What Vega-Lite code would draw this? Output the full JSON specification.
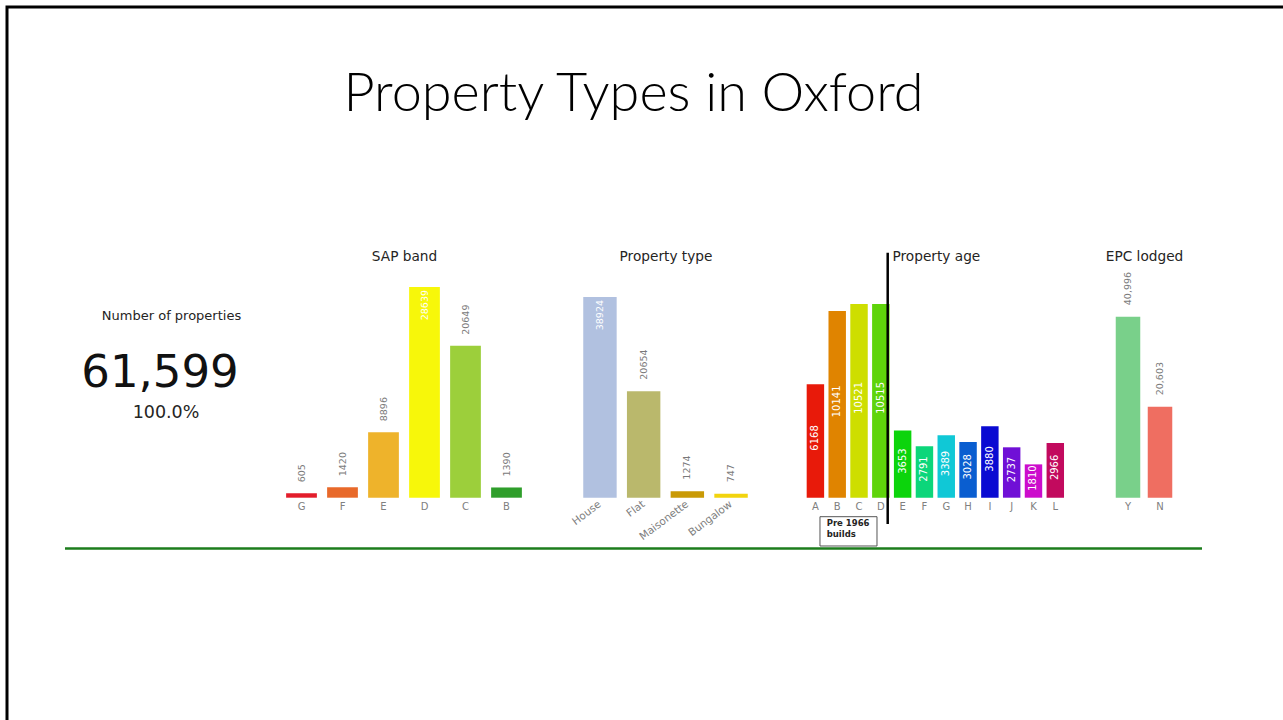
{
  "$schema": "https://vega.github.io/schema/vega-lite/v6.json",
  "width": 1283,
  "height": 716,
  "autosize": {"type": "none"},
  "padding": {"left": 7, "top": 7, "right": -7, "bottom": -3},
  "background": "white",
  "config": {
    "view": {"stroke": "black", "strokeWidth": 3},
    "font": "DejaVu Sans",
    "axis": {"domain": false, "ticks": false, "grid": false, "labelColor": "#808080", "labelFontSize": 10, "labelFont": "DejaVu Sans", "labelPadding": 4, "labelOverlap": false, "titleFont": "DejaVu Sans", "titleFontSize": 13.7, "titleFontWeight": "normal", "titleColor": "#252423", "titleBaseline": "middle", "titleY": -241.7, "orient": "bottom", "offset": -225.3, "labelAngle": 0}
  },
  "title": {"text": "Property Types in Oxford", "font": "Lato", "fontWeight": 300, "fontSize": 54, "color": "#000000", "anchor": "middle", "baseline": "alphabetic", "offset": -158, "dx": -15},
  "resolve": {"scale": {"x": "independent", "y": "independent", "color": "independent"}},
  "layer": [
    {
      "data": {"values": [{"metric": "Number of properties", "value": 61599, "share": 1}]},
      "encoding": {
        "x": {"field": "metric", "type": "nominal", "axis": null, "scale": {"range": [63, 243], "paddingInner": 0, "paddingOuter": 0}},
        "y": {"field": "value", "type": "quantitative", "axis": null, "scale": {"domain": [0, 61599], "range": [716, 379.7], "nice": false}}
      },
      "layer": [
        {"mark": {"type": "text", "font": "DejaVu Sans", "fontSize": 13, "color": "#252423", "baseline": "alphabetic", "align": "center", "dx": 11.5, "dy": -66.5}, "encoding": {"text": {"field": "metric"}}},
        {"mark": {"type": "text", "font": "DejaVu Sans", "fontSize": 45, "color": "#111111", "baseline": "alphabetic", "align": "center"}, "encoding": {"text": {"field": "value", "type": "quantitative", "format": ","}}},
        {"mark": {"type": "text", "font": "DejaVu Sans", "fontSize": 17.5, "color": "#252423", "baseline": "alphabetic", "align": "center", "dx": 6, "dy": 31.3}, "encoding": {"text": {"field": "share", "type": "quantitative", "format": ".1%"}}}
      ]
    },
    {
      "data": {"values": [
        {"band": "G", "count": 605}, {"band": "F", "count": 1420}, {"band": "E", "count": 8896},
        {"band": "D", "count": 28639}, {"band": "C", "count": 20649}, {"band": "B", "count": 1390}
      ]},
      "encoding": {
        "x": {"field": "band", "type": "nominal", "sort": null, "title": "SAP band", "scale": {"range": [274, 520], "paddingInner": 0.25, "paddingOuter": 0.125}, "axis": {"orient": "bottom"}},
        "y": {"field": "count", "type": "quantitative", "axis": null, "scale": {"domain": [0, 28639], "range": [490.7, 280], "nice": false}}
      },
      "layer": [
        {"mark": {"type": "bar"}, "encoding": {"color": {"field": "band", "type": "nominal", "legend": null, "scale": {"domain": ["G", "F", "E", "D", "C", "B"], "range": ["#e31d2b", "#e8692a", "#eeb32b", "#f7f70a", "#9ccf3b", "#2f9e2b"]}}}},
        {"transform": [{"filter": "datum.count < 25000"}], "mark": {"type": "text", "angle": 270, "align": "left", "baseline": "middle", "dx": 11, "fontSize": 9.5, "color": "#7a7a7a"}, "encoding": {"text": {"field": "count", "type": "quantitative", "format": "d"}}},
        {"transform": [{"filter": "datum.count >= 25000"}], "mark": {"type": "text", "angle": 270, "align": "right", "baseline": "middle", "dx": -3, "fontSize": 9.5, "color": "white"}, "encoding": {"text": {"field": "count", "type": "quantitative", "format": "d"}}}
      ]
    },
    {
      "data": {"values": [
        {"ptype": "House", "count": 38924}, {"ptype": "Flat", "count": 20654},
        {"ptype": "Maisonette", "count": 1274}, {"ptype": "Bungalow", "count": 747}
      ]},
      "encoding": {
        "x": {"field": "ptype", "type": "nominal", "sort": null, "title": "Property type", "scale": {"range": [571, 746], "paddingInner": 0.235, "paddingOuter": 0.12}, "axis": {"orient": "bottom", "labelAngle": -37, "labelAlign": "right", "labelBaseline": "middle", "labelPadding": 5, "labelFontSize": 10.5}},
        "y": {"field": "count", "type": "quantitative", "axis": null, "scale": {"domain": [0, 38924], "range": [490.7, 290], "nice": false}}
      },
      "layer": [
        {"mark": {"type": "bar"}, "encoding": {"color": {"field": "ptype", "type": "nominal", "legend": null, "scale": {"domain": ["House", "Flat", "Maisonette", "Bungalow"], "range": ["#b1c1e0", "#bab86c", "#c99a06", "#f2d40e"]}}}},
        {"transform": [{"filter": "datum.count < 30000"}], "mark": {"type": "text", "angle": 270, "align": "left", "baseline": "middle", "dx": 11.5, "fontSize": 9.5, "color": "#7a7a7a"}, "encoding": {"text": {"field": "count", "type": "quantitative", "format": "d"}}},
        {"transform": [{"filter": "datum.count >= 30000"}], "mark": {"type": "text", "angle": 270, "align": "right", "baseline": "middle", "dx": -3, "fontSize": 9.5, "color": "white"}, "encoding": {"text": {"field": "count", "type": "quantitative", "format": "d"}}}
      ]
    },
    {
      "data": {"values": [
        {"age": "A", "count": 6168}, {"age": "B", "count": 10141}, {"age": "C", "count": 10521}, {"age": "D", "count": 10515},
        {"age": "E", "count": 3653}, {"age": "F", "count": 2791}, {"age": "G", "count": 3389}, {"age": "H", "count": 3028},
        {"age": "I", "count": 3880}, {"age": "J", "count": 2737}, {"age": "K", "count": 1810}, {"age": "L", "count": 2966}
      ]},
      "encoding": {
        "x": {"field": "age", "type": "nominal", "sort": null, "title": "Property age", "scale": {"range": [797.5, 1059.2], "paddingInner": 0.2, "paddingOuter": 0.1}, "axis": {"orient": "bottom", "titleX": 885, "titleAlign": "left", "titleAnchor": "start"}},
        "y": {"field": "count", "type": "quantitative", "axis": null, "scale": {"domain": [0, 10521], "range": [490.7, 297], "nice": false}}
      },
      "layer": [
        {"mark": {"type": "bar"}, "encoding": {"color": {"field": "age", "type": "nominal", "legend": null, "scale": {"domain": ["A", "B", "C", "D", "E", "F", "G", "H", "I", "J", "K", "L"], "range": ["#e81a0a", "#e08400", "#cede00", "#5fd40a", "#0cd40c", "#0cd67a", "#10c8d6", "#0a5ed0", "#0a0ad2", "#7010d6", "#cc0ccc", "#c20a5e"]}}}},
        {"mark": {"type": "text", "angle": 270, "align": "center", "baseline": "middle", "dx": 3, "fontSize": 10, "color": "white"}, "encoding": {"y": {"field": "count", "type": "quantitative", "stack": "zero", "bandPosition": 0.5}, "text": {"field": "count", "type": "quantitative", "format": "d"}}},
        {"data": {"values": [{"age": "D", "top": 13307, "bottom": -1428}]}, "mark": {"type": "rule", "color": "black", "strokeWidth": 2.5}, "encoding": {"x": {"field": "age", "type": "nominal", "bandPosition": 0.894}, "y": {"field": "top", "type": "quantitative"}, "y2": {"field": "bottom"}}},
        {"data": {"values": [{"from": "A", "to": "D", "top": -1032, "bottom": -2623}]}, "mark": {"type": "rect", "fill": "white", "stroke": "#555555", "strokeWidth": 1}, "encoding": {"x": {"field": "from", "type": "nominal", "bandPosition": 0.762}, "x2": {"field": "to", "bandPosition": 0.28}, "y": {"field": "top", "type": "quantitative"}, "y2": {"field": "bottom"}}},
        {"data": {"values": [{"age": "A", "top": -1184, "note": ["Pre 1966", "builds"]}]}, "mark": {"type": "text", "align": "left", "baseline": "top", "fontSize": 8.5, "fontWeight": "bold", "lineHeight": 10.5, "color": "#252423"}, "encoding": {"x": {"field": "age", "type": "nominal", "bandPosition": 1.146}, "y": {"field": "top", "type": "quantitative"}, "text": {"field": "note"}}}
      ]
    },
    {
      "data": {"values": [{"epc": "Y", "count": 40996}, {"epc": "N", "count": 20603}]},
      "encoding": {
        "x": {"field": "epc", "type": "nominal", "sort": null, "title": "EPC lodged", "scale": {"range": [1104.9, 1169.1], "paddingInner": 0.234, "paddingOuter": 0.12}, "axis": {"orient": "bottom"}},
        "y": {"field": "count", "type": "quantitative", "axis": null, "scale": {"domain": [0, 40996], "range": [490.7, 309.7], "nice": false}}
      },
      "layer": [
        {"mark": {"type": "bar"}, "encoding": {"color": {"field": "epc", "type": "nominal", "legend": null, "scale": {"domain": ["Y", "N"], "range": ["#79d08a", "#ef6e61"]}}}},
        {"mark": {"type": "text", "angle": 270, "align": "left", "baseline": "middle", "dx": 11.5, "fontSize": 9.5, "color": "#7a7a7a"}, "encoding": {"text": {"field": "count", "type": "quantitative", "format": ","}}}
      ]
    },
    {
      "data": {"values": [{}]},
      "mark": {"type": "rule", "color": "#1c7d1c", "strokeWidth": 2.5},
      "encoding": {
        "x": {"datum": 0, "type": "quantitative", "axis": null, "scale": {"domain": [0, 1], "range": [58, 1195], "nice": false}},
        "x2": {"datum": 1},
        "y": {"datum": 0, "type": "quantitative", "axis": null, "scale": {"domain": [0, 1], "range": [541.5, 0], "nice": false}}
      }
    }
  ]
}
